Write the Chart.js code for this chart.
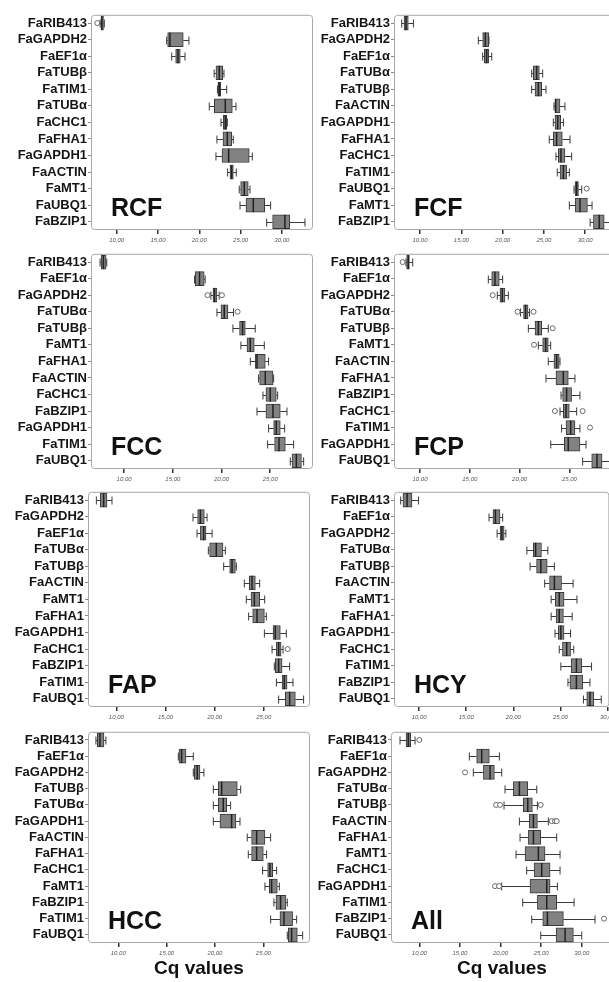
<!DOCTYPE html>
<html>
<head>
<meta charset="utf-8">
<title>Cq values per tissue</title>
<script src="https://cdn.jsdelivr.net/npm/chart.js@4.4.1/dist/chart.umd.min.js"></script>
<style>
  html, body { margin: 0; padding: 0; background: #fff; }
  body { position: relative; width: 609px; height: 982px; overflow: hidden; }
  canvas { position: absolute; }
</style>
</head>
<body>
<script>
// box stats per gene: [min, q1, median, q3, max]
const genesRCF = ["FaRIB413", "FaGAPDH2", "FaEF1α", "FaTUBβ", "FaTIM1", "FaTUBα", "FaCHC1", "FaFHA1", "FaGAPDH1", "FaACTIN", "FaMT1", "FaUBQ1", "FaBZIP1"];
const statsRCF = [
  [8.0, 8.1, 8.2, 8.4, 8.5], [16.05, 16.17, 16.45, 18.06, 18.75], [16.66, 17.14, 17.42, 17.7, 18.27],
  [21.8, 22.02, 22.42, 22.83, 22.99], [22.2, 22.26, 22.42, 22.59, 23.32], [21.21, 21.82, 23.15, 24.0, 24.44],
  [22.63, 22.9, 23.15, 23.32, 23.4], [22.14, 22.87, 23.39, 23.92, 24.12], [22.02, 22.75, 23.56, 26.05, 26.42],
  [23.43, 23.72, 23.92, 24.12, 24.48], [24.84, 25.01, 25.45, 25.93, 26.14], [24.93, 25.65, 26.54, 27.92, 28.64],
  [28.16, 28.88, 30.37, 30.95, 32.8]
];
const outRCF = [["FaRIB413", 7.65]];

const genesFCF = ["FaRIB413", "FaGAPDH2", "FaEF1α", "FaTUBα", "FaTUBβ", "FaACTIN", "FaGAPDH1", "FaFHA1", "FaCHC1", "FaTIM1", "FaUBQ1", "FaMT1", "FaBZIP1"];
const statsFCF = [
  [7.78, 8.06, 8.3, 8.58, 9.2], [17.06, 17.59, 17.91, 18.31, 18.35], [17.59, 17.79, 18.07, 18.31, 18.68],
  [23.52, 23.72, 24.12, 24.45, 24.85], [23.52, 23.92, 24.33, 24.73, 25.25], [26.22, 26.34, 26.42, 26.95, 27.55],
  [26.14, 26.34, 26.67, 27.03, 27.36], [25.65, 26.14, 26.54, 27.23, 28.16], [26.46, 26.75, 27.06, 27.55, 28.36],
  [26.62, 26.95, 27.36, 27.75, 28.08], [28.65, 28.77, 28.97, 29.18, 29.58], [28.08, 28.81, 29.37, 30.27, 30.83],
  [30.6, 31.0, 31.7, 32.3, 33.0]
];
const outFCF = [["FaUBQ1", 30.18]];

const genesFCC = ["FaRIB413", "FaEF1α", "FaGAPDH2", "FaTUBα", "FaTUBβ", "FaMT1", "FaFHA1", "FaACTIN", "FaCHC1", "FaBZIP1", "FaGAPDH1", "FaTIM1", "FaUBQ1"];
const statsFCC = [
  [7.53, 7.64, 7.87, 8.15, 8.22], [17.23, 17.3, 17.74, 18.22, 18.32], [18.91, 19.12, 19.28, 19.53, 19.76],
  [19.53, 19.94, 20.28, 20.66, 21.23], [21.17, 21.85, 22.16, 22.44, 23.46], [21.99, 22.61, 22.95, 23.36, 24.39],
  [22.95, 23.46, 23.64, 24.49, 24.83], [23.8, 23.91, 24.49, 25.28, 25.35], [24.25, 24.56, 25.0, 25.62, 25.76],
  [23.64, 24.56, 25.28, 26.03, 26.72], [24.83, 25.35, 25.62, 26.03, 26.48], [24.73, 25.45, 25.9, 26.55, 27.4],
  [27.06, 27.24, 27.68, 28.2, 28.43]
];
const outFCC = [["FaGAPDH2", 18.56], ["FaGAPDH2", 20.04], ["FaTUBα", 21.65]];

const genesFCP = ["FaRIB413", "FaEF1α", "FaGAPDH2", "FaTUBα", "FaTUBβ", "FaMT1", "FaACTIN", "FaFHA1", "FaBZIP1", "FaCHC1", "FaTIM1", "FaGAPDH1", "FaUBQ1"];
const statsFCP = [
  [8.59, 8.66, 8.83, 8.93, 9.27], [16.86, 17.2, 17.53, 17.96, 18.3], [17.76, 18.03, 18.26, 18.53, 18.87],
  [20.1, 20.4, 20.6, 20.85, 21.0], [20.88, 21.55, 21.88, 22.22, 22.88], [21.88, 22.32, 22.62, 22.88, 23.12],
  [22.88, 23.45, 23.72, 23.98, 24.06], [22.65, 23.65, 24.39, 24.89, 25.56], [24.16, 24.32, 24.72, 25.22, 26.06],
  [24.06, 24.39, 24.66, 24.99, 25.73], [24.22, 24.66, 25.13, 25.56, 26.06], [23.13, 24.49, 24.89, 26.06, 26.67],
  [26.33, 27.24, 27.77, 28.28, 29.3]
];
const outFCP = [["FaRIB413", 8.26], ["FaGAPDH2", 17.3], ["FaTUBα", 19.8], ["FaTUBα", 21.4], ["FaTUBβ", 23.32],
  ["FaMT1", 21.45], ["FaCHC1", 23.55], ["FaCHC1", 26.33], ["FaTIM1", 27.07]];

const genesFAP = ["FaRIB413", "FaGAPDH2", "FaEF1α", "FaTUBα", "FaTUBβ", "FaACTIN", "FaMT1", "FaFHA1", "FaGAPDH1", "FaCHC1", "FaBZIP1", "FaTIM1", "FaUBQ1"];
const statsFAP = [
  [7.97, 8.37, 8.71, 9.05, 9.56], [17.8, 18.27, 18.55, 18.95, 19.23], [18.21, 18.55, 18.88, 19.12, 19.74],
  [19.36, 19.49, 20.17, 20.85, 21.09], [20.92, 21.53, 21.77, 22.11, 22.21], [23.02, 23.53, 23.8, 24.14, 24.58],
  [23.22, 23.7, 24.04, 24.58, 25.09], [23.46, 23.87, 24.31, 25.06, 25.26], [25.06, 25.94, 26.17, 26.68, 27.29],
  [25.84, 26.28, 26.51, 26.76, 26.96], [26.07, 26.17, 26.51, 26.86, 27.63], [26.28, 26.86, 27.09, 27.37, 27.97],
  [26.51, 27.19, 27.63, 28.21, 29.05]
];
const outFAP = [["FaCHC1", 27.43]];

const genesHCY = ["FaRIB413", "FaEF1α", "FaGAPDH2", "FaTUBα", "FaTUBβ", "FaACTIN", "FaMT1", "FaFHA1", "FaGAPDH1", "FaCHC1", "FaTIM1", "FaBZIP1", "FaUBQ1"];
const statsHCY = [
  [8.04, 8.28, 8.72, 9.24, 9.93], [17.42, 17.84, 18.1, 18.59, 18.87], [18.28, 18.59, 18.79, 19.03, 19.21],
  [21.44, 22.12, 22.37, 22.99, 23.67], [21.78, 22.47, 22.92, 23.6, 24.36], [23.33, 23.85, 24.36, 25.12, 26.35],
  [24.02, 24.46, 24.88, 25.39, 26.76], [24.02, 24.54, 24.88, 25.32, 26.25], [24.43, 24.77, 25.05, 25.39, 26.08],
  [24.88, 25.22, 25.67, 26.08, 26.42], [25.05, 26.14, 26.7, 27.28, 28.31], [25.8, 26.01, 26.7, 27.38, 28.14],
  [27.45, 27.8, 28.14, 28.56, 29.34]
];
const outHCY = [];

const genesHCC = ["FaRIB413", "FaEF1α", "FaGAPDH2", "FaTUBβ", "FaTUBα", "FaGAPDH1", "FaACTIN", "FaFHA1", "FaCHC1", "FaMT1", "FaBZIP1", "FaTIM1", "FaUBQ1"];
const statsHCC = [
  [7.69, 7.83, 8.1, 8.52, 8.72], [16.21, 16.28, 16.55, 17.0, 17.76], [17.76, 17.86, 18.17, 18.45, 18.86],
  [19.83, 20.34, 20.69, 22.31, 22.66], [19.83, 20.34, 20.86, 21.21, 21.62], [19.83, 20.52, 21.72, 22.17, 22.59],
  [23.34, 23.79, 24.31, 25.17, 25.76], [23.45, 23.79, 24.31, 25.0, 25.34], [24.93, 25.45, 25.69, 25.97, 26.38],
  [25.17, 25.62, 25.86, 26.45, 26.66], [26.1, 26.31, 26.79, 27.34, 27.48], [25.76, 26.72, 27.14, 28.03, 28.45],
  [27.48, 27.59, 27.93, 28.52, 29.07]
];
const outHCC = [];

const genesAll = ["FaRIB413", "FaEF1α", "FaGAPDH2", "FaTUBα", "FaTUBβ", "FaACTIN", "FaFHA1", "FaMT1", "FaCHC1", "FaGAPDH1", "FaTIM1", "FaBZIP1", "FaUBQ1"];
const statsAll = [
  [7.62, 8.36, 8.64, 8.93, 9.47], [16.16, 17.06, 17.68, 18.62, 19.86], [16.65, 17.89, 18.71, 19.24, 20.14],
  [20.55, 21.58, 22.32, 23.35, 24.46], [20.43, 22.81, 23.35, 23.92, 24.54], [22.32, 23.55, 24.05, 24.54, 25.89],
  [22.4, 23.43, 24.05, 24.95, 26.92], [21.91, 23.02, 24.66, 25.48, 27.33], [23.22, 24.13, 25.07, 26.1, 27.33],
  [20.14, 23.63, 25.69, 26.1, 27.0], [22.73, 24.54, 25.69, 26.92, 29.06], [23.84, 25.2, 25.77, 27.74, 31.64],
  [24.95, 26.84, 27.95, 28.97, 30.0]
];
const outAll = [["FaRIB413", 10.0], ["FaGAPDH2", 15.63], ["FaTUBβ", 19.45], ["FaTUBβ", 19.94], ["FaTUBβ", 24.95],
  ["FaACTIN", 26.3], ["FaACTIN", 26.71], ["FaACTIN", 26.92], ["FaGAPDH1", 19.32], ["FaGAPDH1", 19.82], ["FaBZIP1", 32.75]];

const FONT = '"Liberation Sans", Arial, Helvetica, sans-serif';
Chart.defaults.font.family = FONT;

// whiskers, medians, outliers and the panel frame, all placed through the chart scales
const boxWhiskers = {
  id: "boxWhiskers",
  beforeDatasetsDraw(chart) {
    const { ctx, chartArea: a, scales: { x, y } } = chart;
    const ds = chart.data.datasets[0];
    ctx.save();
    ctx.strokeStyle = "#a8a8a8";
    ctx.lineWidth = 1;
    ctx.beginPath();
    ctx.roundRect(a.left + 0.5, a.top + 0.5, a.width - 1, a.height - 1, 3);
    ctx.stroke();

    ctx.strokeStyle = "#3a3a3a";
    ds.stats.forEach((s, i) => {
      const py = Math.round(y.getPixelForValue(i)) + 0.5;
      const lo = x.getPixelForValue(s[0]);
      const q1 = x.getPixelForValue(s[1]);
      const q3 = x.getPixelForValue(s[3]);
      const hi = x.getPixelForValue(s[4]);
      ctx.beginPath();
      ctx.moveTo(lo, py); ctx.lineTo(q1, py);
      ctx.moveTo(q3, py); ctx.lineTo(hi, py);
      ctx.moveTo(lo, py - 4); ctx.lineTo(lo, py + 4);
      ctx.moveTo(hi, py - 4); ctx.lineTo(hi, py + 4);
      ctx.stroke();
    });
    ctx.restore();
  },
  afterDatasetsDraw(chart) {
    const { ctx, scales: { x, y } } = chart;
    const ds = chart.data.datasets[0];
    const half = ds.barThickness / 2;
    ctx.save();
    ctx.strokeStyle = "#222";
    ctx.lineWidth = 1.5;
    ds.stats.forEach((s, i) => {
      const py = y.getPixelForValue(i);
      const m = x.getPixelForValue(s[2]);
      ctx.beginPath();
      ctx.moveTo(m, py - half); ctx.lineTo(m, py + half);
      ctx.stroke();
    });
    ctx.lineWidth = 1;
    ctx.strokeStyle = "#6a6a6a";
    ctx.fillStyle = "#fff";
    ds.outliers.forEach(([gene, v]) => {
      const i = chart.data.labels.indexOf(gene);
      ctx.beginPath();
      ctx.arc(x.getPixelForValue(v), y.getPixelForValue(i), 2.5, 0, Math.PI * 2);
      ctx.fill();
      ctx.stroke();
    });
    ctx.restore();
  },
  afterDraw(chart, args, opts) {
    const { ctx, chartArea: a } = chart;
    ctx.save();
    ctx.font = "bold 25px " + FONT;
    ctx.fillStyle = "#111";
    ctx.textBaseline = "alphabetic";
    ctx.fillText(opts.title, a.left + 20, a.bottom - 14);
    ctx.restore();
  }
};

const panels = [
  { title: "RCF", genes: genesRCF, stats: statsRCF, outliers: outRCF, xMin: 6.89, xMax: 33.77, left: 0, top: 6, plotH: 222 },
  { title: "FCF", genes: genesFCF, stats: statsFCF, outliers: outFCF, xMin: 6.85, xMax: 33.73, left: 303, top: 6, plotH: 222 },
  { title: "FCC", genes: genesFCC, stats: statsFCC, outliers: outFCC, xMin: 6.6, xMax: 29.39, left: 0, top: 245, plotH: 222 },
  { title: "FCP", genes: genesFCP, stats: statsFCP, outliers: outFCP, xMin: 7.39, xMax: 29.68, left: 303, top: 245, plotH: 222 },
  { title: "FAP", genes: genesFAP, stats: statsFAP, outliers: outFAP, xMin: 7.12, xMax: 29.7, left: -3, top: 483, plotH: 222 },
  { title: "HCY", genes: genesHCY, stats: statsHCY, outliers: outHCY, xMin: 7.33, xMax: 30.2, left: 303, top: 483, plotH: 222 },
  { title: "HCC", genes: genesHCC, stats: statsHCC, outliers: outHCC, xMin: 6.87, xMax: 29.83, left: -3, top: 723, plotH: 218, last: true },
  { title: "All", genes: genesAll, stats: statsAll, outliers: outAll, xMin: 6.51, xMax: 33.85, left: 300, top: 723, plotH: 218, last: true }
];

panels.forEach(p => {
  const axisH = p.last ? 37 : 18;
  const canvas = document.createElement("canvas");
  canvas.width = 315;
  canvas.height = 2 + p.plotH + axisH;
  canvas.style.left = p.left + "px";
  canvas.style.top = p.top + "px";
  document.body.appendChild(canvas);

  new Chart(canvas, {
    type: "bar",
    data: {
      labels: p.genes,
      datasets: [{
        data: p.stats.map(s => [s[1], s[3]]),
        stats: p.stats,
        outliers: p.outliers,
        backgroundColor: "#828282",
        borderColor: "#3a3a3a",
        borderWidth: 1,
        borderSkipped: false,
        barThickness: 14
      }]
    },
    options: {
      indexAxis: "y",
      responsive: false,
      animation: false,
      devicePixelRatio: 1,
      layout: { padding: { top: 2, right: 2, left: 0, bottom: 0 } },
      plugins: {
        legend: { display: false },
        tooltip: { enabled: false },
        boxWhiskers: { title: p.title }
      },
      scales: {
        x: {
          type: "linear",
          min: p.xMin,
          max: p.xMax,
          afterFit(s) { s.height = axisH; },
          border: { display: false },
          grid: { drawOnChartArea: false, tickLength: 4, color: "#333", lineWidth: 1.5 },
          ticks: {
            stepSize: 5,
            includeBounds: false,
            maxRotation: 0,
            padding: 3,
            color: "#555",
            font: { size: 6, style: "italic" },
            callback: v => v.toFixed(2).replace(".", ",")
          },
          title: {
            display: !!p.last,
            text: "Cq values",
            color: "#111",
            padding: { top: 0, bottom: 0 },
            font: { size: 19, weight: "bold" }
          }
        },
        y: {
          type: "category",
          afterFit(s) { s.width = 91; },
          border: { display: false },
          grid: { drawOnChartArea: false, offset: false, tickLength: 3, color: "#888" },
          ticks: {
            autoSkip: false,
            padding: 1,
            color: "#151515",
            font: { size: 13, weight: "bold" }
          }
        }
      }
    },
    plugins: [boxWhiskers]
  });
});
</script>
</body>
</html>
